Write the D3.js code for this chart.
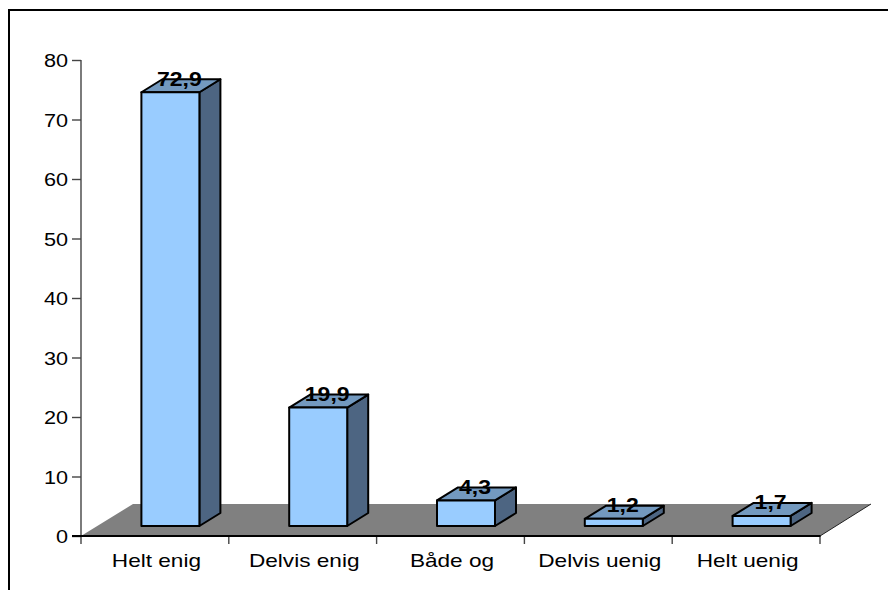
<!DOCTYPE html>
<html><head><meta charset="utf-8">
<script src="https://cdnjs.cloudflare.com/ajax/libs/d3/7.8.5/d3.min.js"></script>
<style>html,body{margin:0;padding:0;background:#fff;overflow:hidden}svg{display:block}</style>
</head><body><svg id="c" width="888" height="590"></svg>
<script>
const categories = ["Helt enig","Delvis enig","Både og","Delvis uenig","Helt uenig"];
const values = [72.9,19.9,4.3,1.2,1.7];
const valueLabels = ["72,9","19,9","4,3","1,2","1,7"];
const yTicks = [0,10,20,30,40,50,60,70,80];

const font = "'Liberation Sans', Arial, sans-serif";
const svg = d3.select("#c");
// frame
svg.append("path").attr("d","M9,590V10H888").attr("fill","none").attr("stroke","#000").attr("stroke-width",2);

const y = d3.scaleLinear().domain([0,80]).range([536,60]);
const x = d3.scaleBand().domain(categories).range([81,820]).paddingInner(0).paddingOuter(0);
const floorDx = 52, floorDy = 32;
const bw = 58, barDx = 21, barDy = 13, barShiftX = 15.5, barShiftY = 10;

// floor
svg.append("path")
  .attr("d",`M${x.range()[0]},${y(0)}L${x.range()[0]+floorDx},${y(0)-floorDy}H${x.range()[1]+floorDx-1}L${x.range()[1]},${y(0)}Z`)
  .attr("fill","#808080");
svg.append("path")
  .attr("d",`M${x.range()[1]},${y(0)}L${x.range()[1]+floorDx-1},${y(0)-floorDy}`)
  .attr("stroke","#222").attr("stroke-width",1).attr("fill","none");

// y axis
const yAxis = d3.axisLeft(y).tickValues(yTicks).tickSize(9).tickPadding(3).tickFormat(d3.format("d"));
const gy = svg.append("g").attr("transform","translate(81,0)").call(yAxis);
gy.selectAll("path,line").attr("stroke","#444").attr("stroke-width",1.4);
gy.select("path").attr("d",`M0,${y(80)}V${y(0)}`);
gy.selectAll("text")
  .attr("font-family",font).attr("font-size",19).attr("fill","#000")
  .attr("text-anchor","end").attr("x",null).attr("dy",null)
  .attr("transform","translate(-13,6.5) scale(1.14,1)");

// x axis
const edges = categories.map(c=>x(c)).concat([x.range()[1]]);
svg.append("g").selectAll("line").data(edges).join("line")
  .attr("x1",d=>d).attr("x2",d=>d).attr("y1",y(0)).attr("y2",y(0)+8)
  .attr("stroke","#444").attr("stroke-width",1.4);
svg.append("line").attr("x1",72).attr("x2",820.5).attr("y1",y(0)).attr("y2",y(0)).attr("stroke","#000").attr("stroke-width",2);
svg.append("g").selectAll("text").data(categories).join("text")
  .attr("transform",d=>`translate(${x(d)+x.bandwidth()/2+1.5},566.5) scale(1.19,1)`)
  .attr("text-anchor","middle").attr("font-family",font).attr("font-size",19).attr("fill","#000").text(d=>d);

// bars
const bars = svg.append("g").selectAll("g").data(categories).join("g");
const bx = d=>x(d)+x.bandwidth()/2-bw/2+barShiftX;
const base = y(0)-barShiftY;
const topY = (i)=>base-(y(0)-y(values[i]));
bars.each(function(d,i){
  const g=d3.select(this), l=bx(d), r=l+bw, t=topY(i);
  const st={stroke:"#000","stroke-width":2,"stroke-linejoin":"round"};
  const add=(path,fill)=>{const p=g.append("path").attr("d",path).attr("fill",fill);for(const k in st)p.attr(k,st[k]);};
  add(`M${r},${t}L${r+barDx},${t-barDy}V${base-barDy}L${r},${base}Z`,"#4d6582");
  add(`M${l},${t}L${l+barDx},${t-barDy}H${r+barDx}L${r},${t}Z`,"#7399bf");
  add(`M${l},${t}H${r}V${base}H${l}Z`,"#99ccff");
});
// labels
svg.append("g").selectAll("text").data(categories).join("text")
  .attr("transform",(d,i)=>`translate(${bx(d)+bw/2+9},${topY(i)-6.5}) scale(1.18,1)`)
  .attr("text-anchor","middle").attr("font-family",font).attr("font-size",19.5).attr("font-weight","bold").attr("fill","#000")
  .text((d,i)=>valueLabels[i]);
</script></body></html>
